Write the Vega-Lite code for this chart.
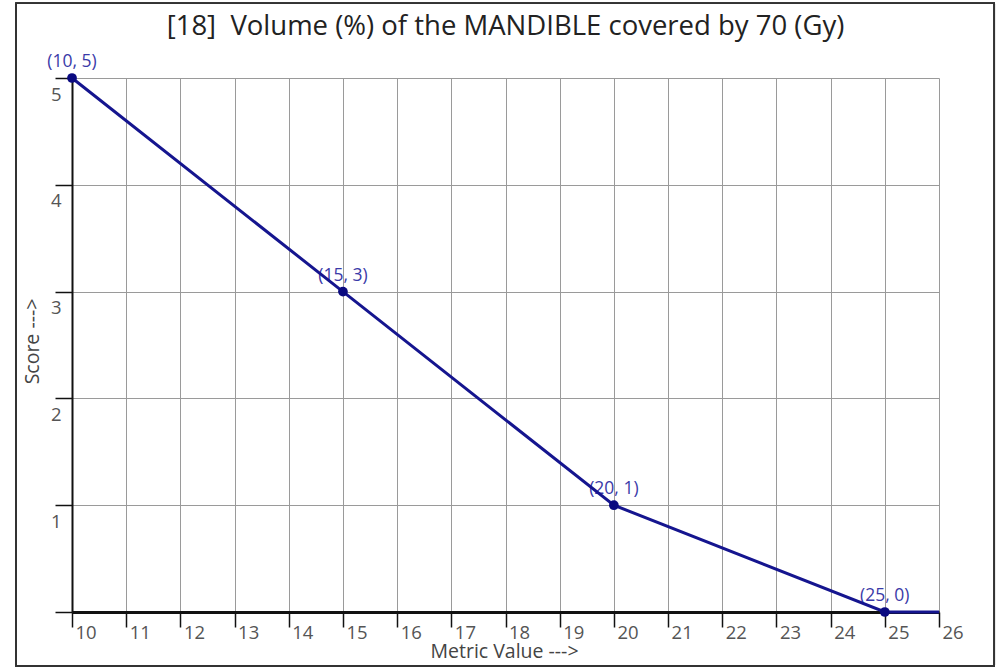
{
  "$schema": "https://vega.github.io/schema/vega-lite/v6.json",
  "autosize": {"type": "none"},
  "width": 867,
  "height": 534,
  "padding": {"left": 72, "top": 78, "right": 62, "bottom": 57},
  "background": "white",
  "config": {
    "font": "Open Sans",
    "view": {"stroke": null}
  },
  "title": {
    "text": "[18]\u00a0 Volume (%) of the MANDIBLE covered by 70 (Gy)",
    "font": "Open Sans",
    "fontSize": 27.5,
    "fontWeight": "normal",
    "color": "#222222",
    "anchor": "middle",
    "baseline": "alphabetic",
    "offset": -60
  },
  "data": {
    "values": [
      {"metric": 10, "score": 5, "label": "(10, 5)"},
      {"metric": 15, "score": 3, "label": "(15, 3)"},
      {"metric": 20, "score": 1, "label": "(20, 1)"},
      {"metric": 25, "score": 0, "label": "(25, 0)"},
      {"metric": 26, "score": 0, "label": ""}
    ]
  },
  "encoding": {
    "x": {
      "field": "metric",
      "type": "quantitative",
      "scale": {"domain": [10, 26], "nice": false, "zero": false},
      "axis": {
        "values": [10, 11, 12, 13, 14, 15, 16, 17, 18, 19, 20, 21, 22, 23, 24, 25, 26],
        "title": "Metric Value --->",
        "titleFont": "Open Sans",
        "titleFontSize": 19.5,
        "titleFontWeight": "normal",
        "titleColor": "#444444",
        "titleX": 432,
        "titleY": 45,
        "titleAnchor": "middle",
        "titleAlign": "center",
        "titleBaseline": "alphabetic",
        "domainColor": "#111111",
        "domainWidth": 3,
        "tickColor": "#111111",
        "tickWidth": 1.5,
        "tickSize": 15,
        "gridColor": "#9a9a9a",
        "gridWidth": 1,
        "gridOpacity": 1,
        "labelFont": "Open Sans",
        "labelFontSize": 18.5,
        "labelColor": "#555555",
        "labelAlign": "left",
        "labelBaseline": "top",
        "labelOffset": 3,
        "labelPadding": -4,
        "labelFlush": false,
        "labelOverlap": false
      }
    },
    "y": {
      "field": "score",
      "type": "quantitative",
      "scale": {"domain": [0, 5], "nice": false},
      "axis": {
        "values": [0, 1, 2, 3, 4, 5],
        "labelExpr": "datum.value == 0 ? '' : datum.label",
        "title": "Score --->",
        "titleFont": "Open Sans",
        "titleFontSize": 19.5,
        "titleFontWeight": "normal",
        "titleColor": "#444444",
        "titleX": -34,
        "titleY": 263,
        "titleAngle": -90,
        "titleAlign": "center",
        "titleBaseline": "alphabetic",
        "domainColor": "#111111",
        "domainWidth": 2,
        "tickColor": "#111111",
        "tickWidth": 1.5,
        "tickSize": 17,
        "gridColor": "#9a9a9a",
        "gridWidth": 1,
        "gridOpacity": 1,
        "labelFont": "Open Sans",
        "labelFontSize": 18.5,
        "labelColor": "#555555",
        "labelAlign": "right",
        "labelBaseline": "top",
        "labelOffset": 7,
        "labelPadding": -6,
        "labelFlush": false,
        "labelOverlap": false
      }
    }
  },
  "layer": [
    {
      "mark": {"type": "rect", "fill": null, "stroke": "#333333", "strokeWidth": 1.5, "clip": false},
      "encoding": {
        "x": {"datum": 8.967},
        "x2": {"datum": 27.02},
        "y": {"datum": 5.70},
        "y2": {"datum": -0.505}
      }
    },
    {
      "transform": [{"filter": "datum.label != ''"}],
      "mark": {"type": "text", "font": "Open Sans", "fontSize": 17.5, "color": "#3a3aa8", "dy": -16, "align": "center", "baseline": "middle"},
      "encoding": {"text": {"field": "label"}}
    },
    {
      "mark": {"type": "line", "color": "#15158f", "strokeWidth": 3},
      "encoding": {}
    },
    {
      "transform": [{"filter": "datum.label != ''"}],
      "mark": {"type": "point", "filled": true, "color": "#0a0a80", "size": 95, "opacity": 1},
      "encoding": {}
    }
  ]
}
